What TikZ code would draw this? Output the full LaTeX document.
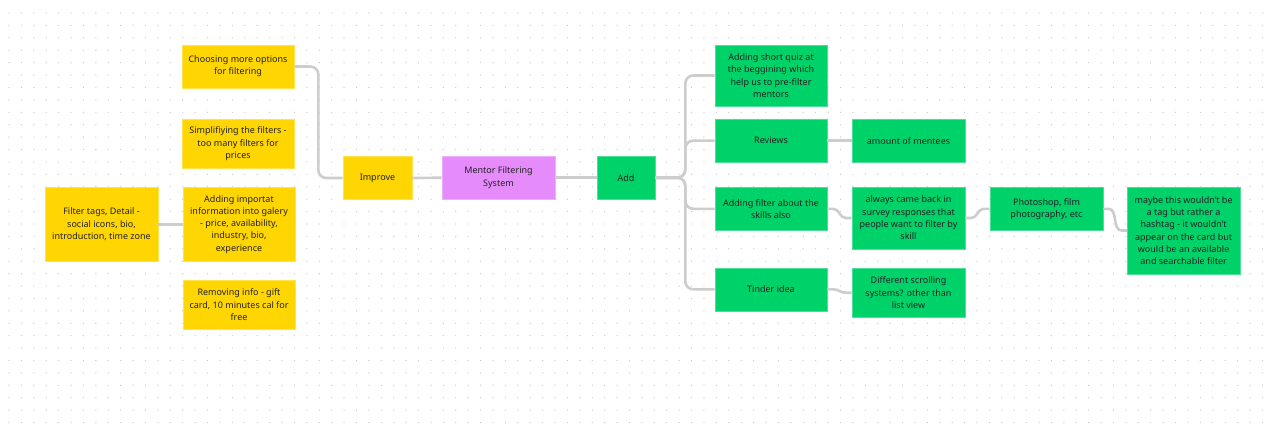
\documentclass[tikz,border=0pt]{standalone}
\usepackage{fontspec}
\setmainfont{Noto Sans}
\usetikzlibrary{calc}
\definecolor{ylw}{HTML}{FFD602}
\definecolor{pnk}{HTML}{E68BFB}
\definecolor{grn}{HTML}{00D26A}
\definecolor{txt}{HTML}{222222}
\definecolor{lnc}{HTML}{CDCDCD}
\definecolor{dotc}{HTML}{C8C8C8}
\tikzset{
  card/.style={rectangle, inner sep=2pt, align=center, text=txt,
    font=\fontsize{9}{12.3}\selectfont, line width=0.6pt},
  yel/.style={card, fill=ylw, draw=ylw!70!white},
  pur/.style={card, fill=pnk, draw=pnk!70!white},
  gre/.style={card, fill=grn, draw=grn!70!white},
  conn/.style={draw=lnc, line width=2.6pt, rounded corners=8pt},
  sconn/.style={draw=lnc, line width=2.6pt}
}
\begin{document}
\begin{tikzpicture}[x=1pt,y=-1pt]
\fill[white] (0,0) rectangle (1269,424);
\useasboundingbox (0,0) rectangle (1269,424);
\foreach \i in {0,...,101}{
  \foreach \j in {0,...,33}{
    \fill[dotc] (9+\i*12.41, 13+\j*12.41) circle (0.65);
  }
}
% nodes
\node[yel, minimum width=112pt, minimum height=43pt] (choose) at (238,66.5) {Choosing more options\\for filtering};
\node[yel, minimum width=112pt, minimum height=49pt] (simp) at (238,143.8) {Simplifiying the filters -\\too many filters for\\prices};
\node[yel, minimum width=112pt, minimum height=74pt] (import) at (239,224.3) {Adding importat\\information into galery\\- price, availability,\\industry, bio,\\experience};
\node[yel, minimum width=113pt, minimum height=74pt] (tags) at (101.5,224.3) {Filter tags, Detail -\\social icons, bio,\\introduction, time zone};
\node[yel, minimum width=112pt, minimum height=49pt] (remove) at (239,304.7) {Removing info - gift\\card, 10 minutes cal for\\free};
\node[yel, minimum width=69pt, minimum height=43pt] (improve) at (377.5,178) {Improve};
\node[pur, minimum width=113pt, minimum height=43pt] (mentor) at (498.5,177.7) {Mentor Filtering\\System};
\node[gre, minimum width=58pt, minimum height=43pt] (add) at (626,177.7) {Add};
\node[gre, minimum width=112pt, minimum height=61pt] (quiz) at (771,75.5) {Adding short quiz at\\the beggining which\\help us to pre-filter\\mentors};
\node[gre, minimum width=112pt, minimum height=43pt] (reviews) at (771,140.6) {Reviews};
\node[gre, minimum width=113pt, minimum height=43pt] (amount) at (908.5,140.6) {amount of mentees};
\node[gre, minimum width=112pt, minimum height=43pt] (skills) at (771,208.8) {Adding filter about the\\skills also};
\node[gre, minimum width=113pt, minimum height=62pt] (always) at (908.5,218) {always came back in\\survey responses that\\people want to filter by\\skill};
\node[gre, minimum width=112pt, minimum height=43pt] (tinder) at (771,289.3) {Tinder idea};
\node[gre, minimum width=113pt, minimum height=49pt] (diff) at (908.5,292.7) {Different scrolling\\systems? other than\\list view};
\node[gre, minimum width=113pt, minimum height=43pt] (photo) at (1046.5,208.8) {Photoshop, film\\photography, etc};
\node[gre, minimum width=113pt, minimum height=87pt] (maybe) at (1183.6,230.5) {maybe this wouldn't be\\a tag but rather a\\hashtag - it wouldn't\\appear on the card but\\would be an available\\and searchable filter};
% connectors
\draw[conn] (choose.east) -- ++(24,0) |- (improve.west);
\draw[conn] (improve.east) -- (mentor.west);
\draw[conn] (mentor.east) -- (add.west);
\draw[conn] (tags.east) -- (import.west);
\draw[conn] (add.east) -- ++(30,0) |- (quiz.west);
\draw[conn] (add.east) -- ++(30,0) |- (reviews.west);
\draw[conn] (add.east) -- ++(30,0) |- (skills.west);
\draw[conn] (add.east) -- ++(30,0) |- (tinder.west);
\draw[conn] (reviews.east) -- (amount.west);
\draw[sconn] (skills.east) -- ++(6,0) to[out=0,in=180] ($(always.west)+(-6,0)$) -- (always.west);
\draw[sconn] (tinder.east) -- ++(6,0) to[out=0,in=180] ($(diff.west)+(-6,0)$) -- (diff.west);
\draw[sconn] (always.east) -- ++(6,0) to[out=0,in=180] ($(photo.west)+(-6,0)$) -- (photo.west);
\draw[sconn] (photo.east) -- ++(5,0) to[out=0,in=180] ($(maybe.west)+(-5,0)$) -- (maybe.west);
\end{tikzpicture}
\end{document}
